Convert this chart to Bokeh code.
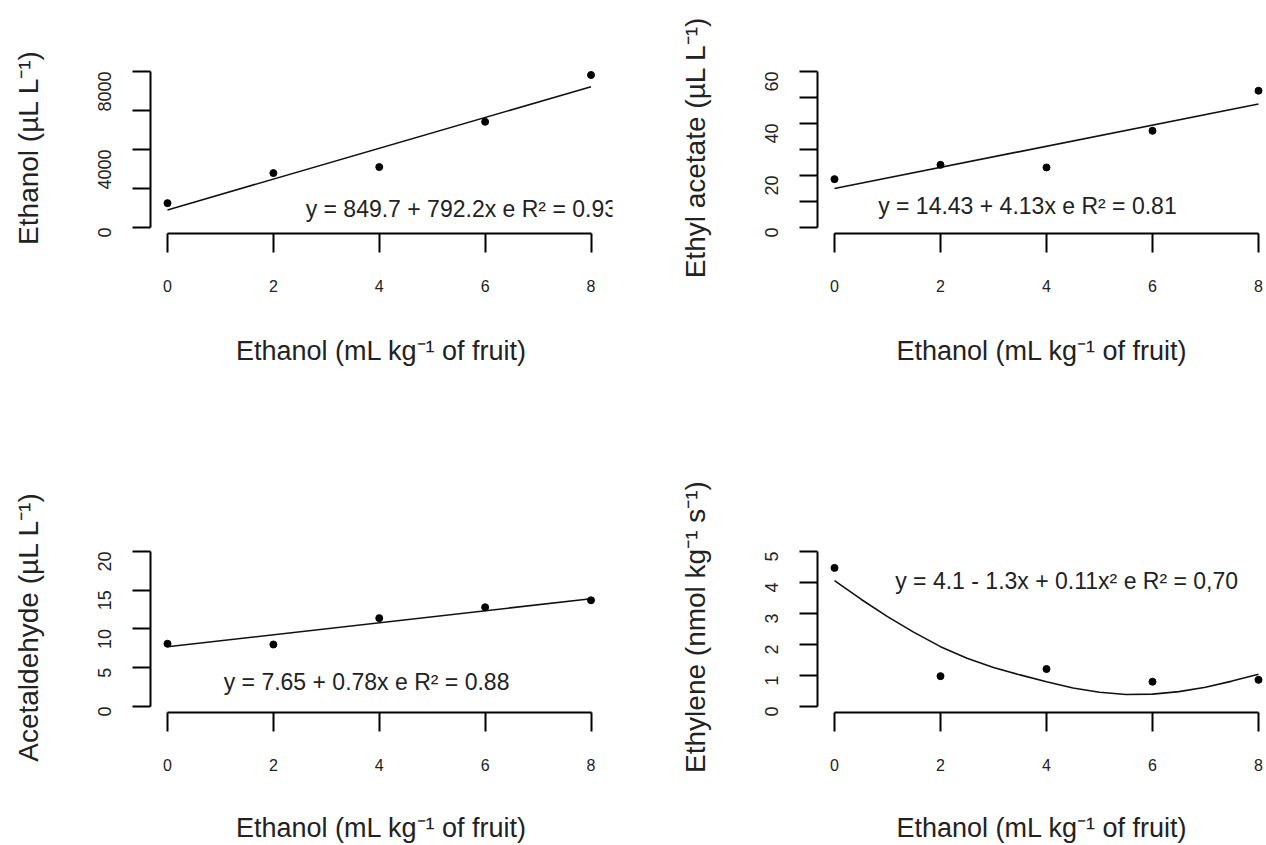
import math
from bokeh.plotting import figure
from bokeh.layouts import gridplot
from bokeh.models import FixedTicker, Range1d
from bokeh.core.properties import value
from bokeh.embed import file_html
from bokeh.resources import INLINE

# ---------------- data ----------------
doses = [0, 2, 4, 6, 8]
x_tick_values = [0, 2, 4, 6, 8]
x_title = "Ethanol (mL kg⁻¹ of fruit)"

ethanol_values = [1250, 2790, 3100, 5420, 7820]
ethanol_fit_x = [0, 8]
ethanol_fit_y = [900, 7220]
ethanol_equation = "y = 849.7 + 792.2x e R² = 0.93"
ethanol_major_ticks = [0, 4000, 8000]
ethanol_minor_ticks = [2000, 6000]
ethanol_title = "Ethanol (µL L⁻¹)"

ethyl_acetate_values = [18.6, 24.1, 23.1, 37.2, 52.6]
ethyl_acetate_fit_x = [0, 8]
ethyl_acetate_fit_y = [15.0, 47.5]
ethyl_acetate_equation = "y = 14.43 + 4.13x e R² = 0.81"
ethyl_acetate_major_ticks = [0, 20, 40, 60]
ethyl_acetate_minor_ticks = [10, 30, 50]
ethyl_acetate_title = "Ethyl acetate (µL L⁻¹)"

acetaldehyde_values = [8.1, 8.0, 11.4, 12.8, 13.7]
acetaldehyde_fit_x = [0, 8]
acetaldehyde_fit_y = [7.7, 13.9]
acetaldehyde_equation = "y = 7.65 + 0.78x e R² = 0.88"
acetaldehyde_major_ticks = [0, 5, 10, 15, 20]
acetaldehyde_minor_ticks = []
acetaldehyde_title = "Acetaldehyde (µL L⁻¹)"

ethylene_values = [4.47, 0.98, 1.21, 0.80, 0.86]
ethylene_fit_x = [0, 0.5, 1, 1.5, 2, 2.5, 3, 3.5, 4, 4.5, 5, 5.5, 6, 6.5, 7, 7.5, 8]
ethylene_fit_y = [4.06, 3.46, 2.90, 2.39, 1.93, 1.56, 1.26, 1.02, 0.80, 0.60,
                  0.46, 0.39, 0.40, 0.48, 0.62, 0.82, 1.04]
ethylene_equation = "y = 4.1 - 1.3x + 0.11x² e R² = 0,70"
ethylene_major_ticks = [0, 1, 2, 3, 4, 5]
ethylene_minor_ticks = []
ethylene_title = "Ethylene (nmol kg⁻¹ s⁻¹)"

# ---------------- layout / style ----------------
FONT = "Liberation Sans"
TEXT_COLOR = "#222222"
FRAME_H = 172
ZERO_OFFSET = 6          # px between x axis line and y = 0
Y_SPAN = 156             # px from y = 0 to top tick
X0_OFFSET = 17           # px between y axis line and x = 0

COLS = {
    "left": dict(width=641, border_left=150, border_right=29, px_per_unit=52.94),
    "right": dict(width=625, border_left=176, border_right=0, px_per_unit=53.0),
}
ROWS = {
    "top": dict(height=400, border_top=61, title_standoff=41),
    "bottom": dict(height=445, border_top=141, title_standoff=39),
}


def make_panel(col, row, values, fit_x, fit_y, major, minor, ytitle,
               equation, eq_x, eq_y):
    c = COLS[col]
    r = ROWS[row]
    frame_w = c["width"] - c["border_left"] - c["border_right"]
    ppu_x = c["px_per_unit"]
    ymax = major[-1]
    ppu_y = Y_SPAN / ymax
    x_range = Range1d(-X0_OFFSET / ppu_x, (frame_w - X0_OFFSET) / ppu_x)
    y_range = Range1d(-ZERO_OFFSET / ppu_y, (FRAME_H - ZERO_OFFSET) / ppu_y)

    p = figure(width=c["width"], height=r["height"],
               x_range=x_range, y_range=y_range,
               min_border_left=c["border_left"], min_border_right=c["border_right"],
               min_border_top=r["border_top"],
               min_border_bottom=r["height"] - r["border_top"] - FRAME_H,
               output_backend="svg", toolbar_location=None,
               background_fill_color="white", border_fill_color="white")
    p.outline_line_color = None
    p.grid.visible = False

    # x axis (R style: detached, 0..8)
    xa = p.xaxis[0]
    xa.bounds = (0, 8)
    xa.ticker = FixedTicker(ticks=x_tick_values)
    xa.axis_line_width = 2
    xa.axis_line_color = "black"
    xa.major_tick_line_width = 2
    xa.major_tick_line_color = "black"
    xa.major_tick_out = 19
    xa.major_tick_in = 0
    xa.minor_tick_line_color = None
    xa.major_label_text_font = FONT
    xa.major_label_text_font_size = "16px"
    xa.major_label_text_color = TEXT_COLOR
    xa.major_label_standoff = 27
    xa.axis_label = x_title
    xa.axis_label_text_font = FONT
    xa.axis_label_text_font_size = "27px"
    xa.axis_label_text_font_style = "normal"
    xa.axis_label_text_color = TEXT_COLOR
    xa.axis_label_standoff = r["title_standoff"]

    # y axis
    ya = p.yaxis[0]
    ya.bounds = (0, ymax)
    ya.ticker = FixedTicker(ticks=major, minor_ticks=minor)
    ya.axis_line_width = 2
    ya.axis_line_color = "black"
    ya.major_tick_line_width = 2
    ya.major_tick_line_color = "black"
    ya.major_tick_out = 18
    ya.major_tick_in = 0
    ya.minor_tick_line_width = 2
    ya.minor_tick_line_color = "black"
    ya.minor_tick_out = 18
    ya.minor_tick_in = 0
    ya.major_label_orientation = math.pi / 2
    ya.major_label_text_font = FONT
    ya.major_label_text_font_size = "18px"
    ya.major_label_text_color = TEXT_COLOR
    ya.major_label_standoff = 28
    ya.axis_label = ytitle
    ya.axis_label_text_font = FONT
    ya.axis_label_text_font_size = "28px"
    ya.axis_label_text_font_style = "normal"
    ya.axis_label_text_color = TEXT_COLOR
    ya.axis_label_standoff = 45

    p.line(fit_x, fit_y, line_color="#111111", line_width=1.6)
    p.scatter(doses, values, size=7, fill_color="black", line_color="black")
    p.text(x=[eq_x], y=[eq_y], text=[equation],
           text_font=value(FONT), text_font_size="23px",
           text_color=TEXT_COLOR, text_align="center", text_baseline="middle")
    return p


p1 = make_panel("left", "top", ethanol_values, ethanol_fit_x, ethanol_fit_y,
                ethanol_major_ticks, ethanol_minor_ticks, ethanol_title,
                ethanol_equation, 5.55, 940)
p2 = make_panel("right", "top", ethyl_acetate_values, ethyl_acetate_fit_x,
                ethyl_acetate_fit_y, ethyl_acetate_major_ticks,
                ethyl_acetate_minor_ticks, ethyl_acetate_title,
                ethyl_acetate_equation, 3.64, 8.3)
p3 = make_panel("left", "bottom", acetaldehyde_values, acetaldehyde_fit_x,
                acetaldehyde_fit_y, acetaldehyde_major_ticks,
                acetaldehyde_minor_ticks, acetaldehyde_title,
                acetaldehyde_equation, 3.76, 3.17)
p4 = make_panel("right", "bottom", ethylene_values, ethylene_fit_x,
                ethylene_fit_y, ethylene_major_ticks, ethylene_minor_ticks,
                ethylene_title, ethylene_equation, 4.38, 4.06)

grid = gridplot([[p1, p2], [p3, p4]], toolbar_location=None)

with open("out.html", "w") as f:
    f.write(file_html(grid, INLINE))
